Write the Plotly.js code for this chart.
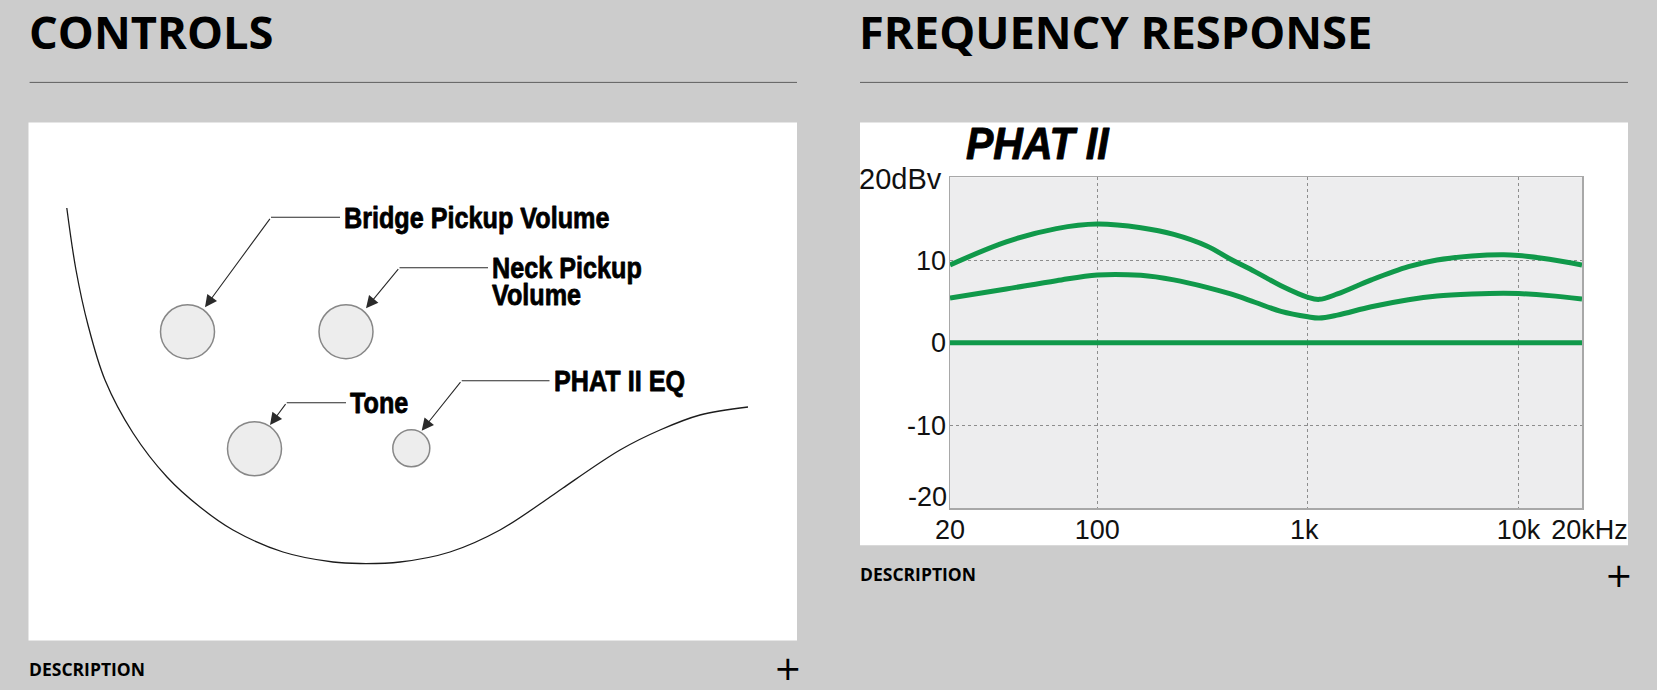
<!DOCTYPE html>
<html>
<head>
<meta charset="utf-8">
<script src="https://cdn.plot.ly/plotly-3.0.1.min.js"></script>
<style>
  html, body { margin: 0; padding: 0; background: #cccccc; }
  #page { width: 1657px; height: 690px; }
</style>
</head>
<body>
<div id="page"></div>
<script>
// ---------- Data: CONTROLS diagram (drawing units) ----------
const bodyX = [66.8, 76, 88, 105, 133, 167, 200, 233, 283, 333, 360, 400, 450, 500, 550, 563, 620, 660, 700, 748];
const bodyY = [208, 270, 325, 380, 433, 477, 507, 530, 552, 562, 563.5, 562, 552, 530, 497, 488, 450, 430, 415, 407];

const knobLabels = ['Bridge Pickup Volume', 'Neck Pickup|Volume', 'Tone', 'PHAT II EQ'];
const knobX = [187.5, 346, 254.5, 411.3];
const knobY = [331.7, 331.7, 448.8, 448.3];
const knobD = [54, 54, 54, 37];
const labelX = [344, 492, 350, 553.5];
const labelY = [217.3, 267.7, 402.7, 380.7];
const elbowX = [271, 399.5, 286.7, 461.7];
const tipX = [205, 366, 270, 421.7];
const tipY = [307.3, 308.3, 425, 430.7];

// ---------- Data: FREQUENCY RESPONSE (PHAT II) ----------
const freqHz   = [20, 37, 64, 100, 161, 231, 331, 430, 560, 745, 1000, 1130, 1380, 2000, 3000, 4100, 6000, 8500, 10000, 14000, 20000];
const maxBoost = [9.4, 12.2, 13.8, 14.35, 13.9, 13.1, 11.7, 10.1, 8.6, 6.9, 5.5, 5.25, 5.9, 7.6, 9.2, 10.0, 10.5, 10.65, 10.55, 10.1, 9.4];
const midBoost = [5.4, 6.5, 7.5, 8.2, 8.15, 7.6, 6.7, 5.9, 4.9, 3.8, 3.15, 3.0, 3.35, 4.35, 5.2, 5.65, 5.9, 6.0, 5.95, 5.7, 5.3];
const flatResp = [0, 0, 0, 0, 0, 0, 0, 0, 0, 0, 0, 0, 0, 0, 0, 0, 0, 0, 0, 0, 0];
const freqTicks = [20, 100, 1000, 10000, 20000];
const freqTickText = ['20', '100', '1k\u00a0', '10k', '\u00a0\u00a020kHz'];
const dbTicks = [-10, 0, 10];
const dbTickText = ['-10', '0', '10'];

// ---------- Layout helpers ----------
const W = 1657, H = 690;
const px = x => x / W;
const py = y => 1 - y / H;
const GREEN = '#10994a';
const LABEL_FONT = 'Liberation Sans, Arial, Helvetica, sans-serif';
const TICK_FONT = 'Liberation Sans, Arial, Helvetica, sans-serif';
const PAGE_FONT = 'Open Sans, sans-serif';
const LABEL_SIZE = 30;
const LABEL_LINE_GAP = 27.4;   // px between label lines in the diagram

const traces = [];
traces.push({
  x: bodyX, y: bodyY, xaxis: 'x', yaxis: 'y', mode: 'lines',
  line: { color: '#1c1c1c', width: 1.3, shape: 'spline', smoothing: 1 },
  hoverinfo: 'skip'
});
for (let i = 0; i < knobLabels.length; i++) {
  traces.push({
    x: [labelX[i] - 4, elbowX[i]], y: [labelY[i], labelY[i]], xaxis: 'x', yaxis: 'y',
    mode: 'lines', line: { color: '#2a2a2a', width: 1.1 }, hoverinfo: 'skip'
  });
}
traces.push({
  x: knobX, y: knobY, xaxis: 'x', yaxis: 'y', mode: 'markers',
  marker: { size: knobD, color: '#e6e6e6', line: { color: '#555555', width: 1.5 } },
  hoverinfo: 'skip'
});
[flatResp, midBoost, maxBoost].forEach(vals => {
  traces.push({
    x: freqHz, y: vals, xaxis: 'x2', yaxis: 'y2', mode: 'lines',
    line: { color: GREEN, width: 5, shape: 'spline', smoothing: 1 }, hoverinfo: 'skip'
  });
});

const annotations = [];
const condensed = []; // [annotation index, horizontal scale, stroke width, line-gap factor]
function pageText(text, x, y, size, anchor, family) {
  annotations.push({
    xref: 'paper', yref: 'paper', x: px(x), y: py(y), xanchor: anchor || 'left', yanchor: 'middle',
    text: text, showarrow: false, borderpad: 0, borderwidth: 0,
    font: { family: family || PAGE_FONT, size: size, color: '#000' }
  });
}
pageText('<b>CONTROLS</b>', 29, 31, 45.3);
pageText('<b>FREQUENCY RESPONSE</b>', 859, 31, 45.3);
pageText('<b>DESCRIPTION</b>', 29, 669, 17.5);
pageText('<b>DESCRIPTION</b>', 860, 574, 17.5);
pageText('+', 788, 668, 33, 'center', 'DejaVu Sans, sans-serif');
pageText('+', 1619, 575, 33, 'center', 'DejaVu Sans, sans-serif');

// knob labels and arrows
const gapFactor = LABEL_LINE_GAP / (1.3 * LABEL_SIZE);
for (let i = 0; i < knobLabels.length; i++) {
  const lines = knobLabels[i].split('|');
  const n = lines.length;
  condensed.push([annotations.length, 0.84, 0.8, gapFactor]);
  annotations.push({
    xref: 'x', yref: 'y', x: labelX[i], y: labelY[i] + (n - 1) * 1.3 * LABEL_SIZE / 2,
    xanchor: 'left', yanchor: 'middle', align: 'left',
    text: lines.map(l => '<b>' + l + '</b>').join('<br>'), showarrow: false, borderpad: 0, borderwidth: 0,
    font: { family: LABEL_FONT, size: LABEL_SIZE, color: '#000' }
  });
  annotations.push({
    xref: 'x', yref: 'y', axref: 'x', ayref: 'y', x: tipX[i], y: tipY[i], ax: elbowX[i], ay: labelY[i],
    text: '', showarrow: true, arrowhead: 2, arrowsize: 2.2, arrowwidth: 1.1, arrowcolor: '#2a2a2a', standoff: 0
  });
}

// chart extras
condensed.push([annotations.length, 0.91, 1.0, 1]);
annotations.push({
  xref: 'paper', yref: 'paper', x: px(966), y: py(143), xanchor: 'left', yanchor: 'middle',
  text: '<b><i>PHAT II</i></b>', showarrow: false, borderpad: 0, borderwidth: 0,
  font: { family: LABEL_FONT, size: 45, color: '#000' }
});
annotations.push({
  xref: 'x2 domain', yref: 'y2', x: 0, y: 20, xanchor: 'right', yanchor: 'middle', xshift: -8, yshift: -2,
  text: '20dBv', showarrow: false, borderpad: 0, borderwidth: 0, font: { family: TICK_FONT, size: 29, color: '#111' }
});
annotations.push({
  xref: 'x2 domain', yref: 'y2', x: 0, y: -20, xanchor: 'right', yanchor: 'middle', xshift: -3, yshift: 11,
  text: '-20', showarrow: false, borderpad: 0, borderwidth: 0, font: { family: TICK_FONT, size: 27, color: '#111' }
});

const shapes = [
  { type: 'rect', xref: 'paper', yref: 'paper', x0: px(28.5), x1: px(797), y0: py(640.4), y1: py(122.6), fillcolor: '#ffffff', line: { width: 0 }, layer: 'below' },
  { type: 'rect', xref: 'paper', yref: 'paper', x0: px(860), x1: px(1628), y0: py(545.3), y1: py(122.6), fillcolor: '#ffffff', line: { width: 0 }, layer: 'below' },
  { type: 'rect', xref: 'x2 domain', yref: 'y2 domain', x0: 0, x1: 1, y0: 0, y1: 1, fillcolor: '#ededee', line: { width: 0 }, layer: 'below' },
  { type: 'line', xref: 'paper', yref: 'paper', x0: px(29.6), x1: px(797), y0: py(82.4), y1: py(82.4), line: { color: '#5f5f5f', width: 1 } },
  { type: 'line', xref: 'paper', yref: 'paper', x0: px(860), x1: px(1628), y0: py(82.4), y1: py(82.4), line: { color: '#5f5f5f', width: 1 } }
];

const layout = {
  width: W, height: H, margin: { l: 0, r: 0, t: 0, b: 0 },
  paper_bgcolor: '#cccccc', plot_bgcolor: 'rgba(0,0,0,0)', showlegend: false,
  xaxis: { domain: [px(28.5), px(797)], range: [28.5, 797], visible: false, fixedrange: true, anchor: 'y' },
  yaxis: { domain: [py(640.4), py(122.6)], range: [640.4, 122.6], visible: false, fixedrange: true, anchor: 'x' },
  xaxis2: {
    domain: [px(950), px(1582)], anchor: 'y2', type: 'log',
    range: [Math.log10(20), Math.log10(20000)],
    tickmode: 'array', tickvals: freqTicks, ticktext: freqTickText, tickangle: 0,
    ticklabeloverflow: 'allow',
    showgrid: true, gridcolor: '#8d8d8d', griddash: 'dot', gridwidth: 1,
    showline: true, linecolor: '#a8a8a8', linewidth: 1.5, mirror: true,
    ticks: '', zeroline: false, ticklabelstandoff: -3,
    tickfont: { family: TICK_FONT, size: 27, color: '#111' }
  },
  yaxis2: {
    domain: [py(508.3), py(177.3)], anchor: 'x2', range: [-20, 20],
    tickmode: 'array', tickvals: dbTicks, ticktext: dbTickText,
    showgrid: true, gridcolor: '#8d8d8d', griddash: 'dot', gridwidth: 1,
    showline: true, linecolor: '#a8a8a8', linewidth: 1.5, mirror: true,
    ticks: '', zeroline: false, ticklabelstandoff: -3,
    tickfont: { family: TICK_FONT, size: 27, color: '#111' }
  },
  annotations: annotations,
  shapes: shapes
};

Plotly.newPlot('page', traces, layout, { displayModeBar: false, staticPlot: true }).then(gd => {
  // condensed heavy type: tighten line gap, squeeze horizontally about the left edge
  condensed.forEach(([idx, s, sw, gf]) => {
    const g = gd.querySelector('.annotation[data-index="' + idx + '"]');
    if (!g) return;
    const t = g.querySelector('text');
    if (!t) return;
    if (gf !== 1) {
      t.querySelectorAll('tspan.line').forEach(ts => {
        const dy = ts.getAttribute('dy');
        if (dy && dy.indexOf('em') > 0) {
          const v = parseFloat(dy);
          if (v) ts.setAttribute('dy', (v * gf) + 'em');
        }
      });
    }
    const bb = t.getBBox();
    t.setAttribute('transform', 'translate(' + bb.x + ',0) scale(' + s + ',1) translate(' + (-bb.x) + ',0)');
    t.style.stroke = '#000';
    t.style.strokeWidth = sw + 'px';
    t.style.strokeLinejoin = 'round';
  });
});
</script>
</body>
</html>
